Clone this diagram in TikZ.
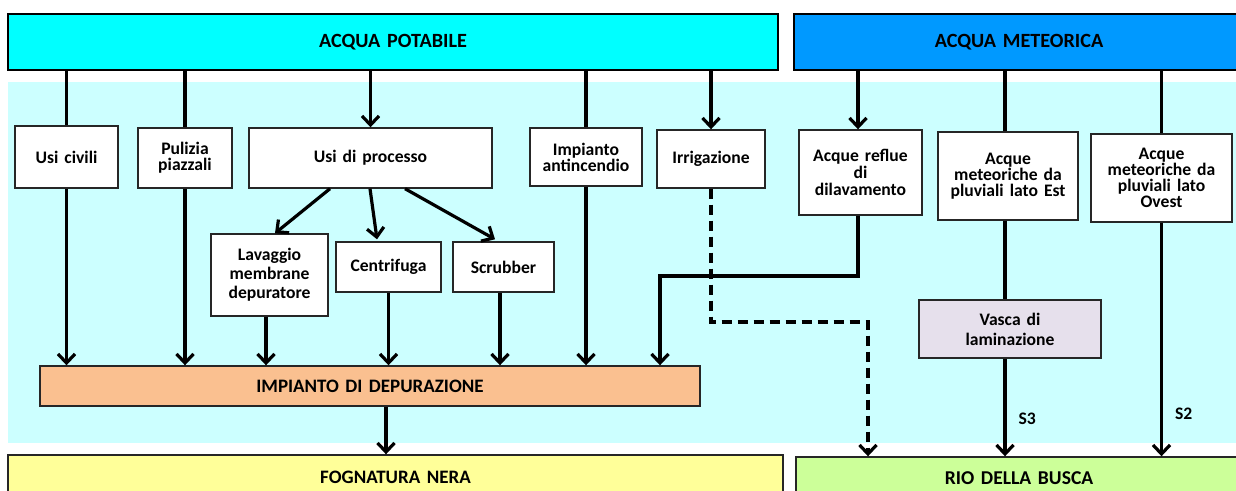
\documentclass[tikz,border=0pt]{standalone}
\usepackage{fontspec}
\setmainfont{Carlito}[WordSpace={1.5,1,1}]
\usetikzlibrary{arrows.meta}
\definecolor{potc}{HTML}{00FFFF}
\definecolor{metc}{HTML}{0099FF}
\definecolor{bgc}{HTML}{CCFFFF}
\definecolor{depc}{HTML}{FAC090}
\definecolor{vasc}{HTML}{E6E0EC}
\definecolor{fogc}{HTML}{FFFF99}
\definecolor{rioc}{HTML}{CCFF99}
\tikzset{
  box/.style={draw=black!85, line width=0.7pt, fill=white, inner sep=1pt, align=center,
    font=\fontsize{8.8}{8}\selectfont\bfseries},
  bigbox/.style={draw=black, line width=1.1pt, inner sep=0pt, align=center,
    font=\fontsize{10.1}{12}\selectfont\bfseries},
  flow/.style={line width=1.6pt},
  arr/.style={flow, -{Straight Barb[length=4.5pt,width=8.5pt,line width=1.6pt]}},
  darr/.style={arr, dash pattern=on 5pt off 3pt},
  lbl/.style={font=\fontsize{8.8}{10}\selectfont\bfseries, inner sep=0pt}
}
\begin{document}
\begin{tikzpicture}[x=0.5pt,y=-0.5pt]
\useasboundingbox (0,0) rectangle (1236,491);
\fill[bgc] (8,82) rectangle (1240,443);
% top boxes
\node[bigbox, fill=potc, minimum width=385pt, minimum height=28pt] (pot) at (393,42) {ACQUA POTABILE};
\node[bigbox, fill=metc, minimum width=225pt, minimum height=28pt] (met) at (1019,42) {ACQUA METEORICA};
% use boxes
\node[box, minimum width=51.5pt, minimum height=31pt] (civ) at (66.5,157) {Usi civili};
\node[box, minimum width=47pt, minimum height=30pt] (pul) at (185,158) {Pulizia\\piazzali};
\node[box, minimum width=121.5pt, minimum height=30pt] (proc) at (370.5,158) {Usi di processo};
\node[box, minimum width=56pt, minimum height=29pt] (anti) at (586,157) {Impianto\\antincendio};
\node[box, minimum width=54pt, minimum height=29pt] (irr) at (711,159) {Irrigazione};
\node[box, minimum width=61.5pt, minimum height=42.5pt, font=\fontsize{8.8}{8.3}\selectfont\bfseries] (refl) at (860.5,172.5) {Acque reflue\\di\\dilavamento};
\node[box, minimum width=70pt, minimum height=44pt, font=\fontsize{8.8}{8}\selectfont\bfseries] (est) at (1008,176) {Acque\\meteoriche da\\pluviali lato Est};
\node[box, minimum width=70.5pt, minimum height=44pt, font=\fontsize{8.8}{8}\selectfont\bfseries] (ove) at (1161.5,178) {Acque\\meteoriche da\\pluviali lato\\Ovest};
\node[box, minimum width=58.5pt, minimum height=41pt, font=\fontsize{8.8}{9.5}\selectfont\bfseries] (lav) at (269.5,275) {Lavaggio\\membrane\\depuratore};
\node[box, minimum width=52.5pt, minimum height=25pt] (cen) at (388.5,267) {Centrifuga};
\node[box, minimum width=50.5pt, minimum height=25pt] (scr) at (503.5,267) {Scrubber};
\node[box, fill=depc, minimum width=330pt, minimum height=20pt, font=\fontsize{9.5}{10}\selectfont\bfseries] (dep) at (370,386) {IMPIANTO DI DEPURAZIONE};
\node[box, fill=vasc, minimum width=91pt, minimum height=29pt, font=\fontsize{8.8}{10}\selectfont\bfseries] (vas) at (1010,329) {Vasca di\\laminazione};
\node[box, fill=fogc, minimum width=387.5pt, minimum height=22.5pt, font=\fontsize{9.5}{10}\selectfont\bfseries] (fog) at (395.5,477.5) {FOGNATURA NERA};
\node[box, fill=rioc, minimum width=223pt, minimum height=21.5pt, font=\fontsize{9.8}{10}\selectfont\bfseries] (rio) at (1019,478.5) {RIO DELLA BUSCA};
% joints
\coordinate (j1) at (660,276);
\coordinate (j2) at (868,322);
% potable connectors
\draw[flow] (civ.north |- pot.south) -- (civ.north);
\draw[arr] (civ.south) -- (civ.south |- dep.north);
\draw[flow] (pul.north |- pot.south) -- (pul.north);
\draw[arr] (pul.south) -- (pul.south |- dep.north);
\draw[arr] (proc.north |- pot.south) -- (proc.north);
\draw[arr] ([xshift=-20.25pt]proc.south) -- ([xshift=2.75pt]lav.north);
\draw[arr] ([xshift=-0.25pt]proc.south) -- ([xshift=-5.75pt,yshift=1pt]cen.north);
\draw[arr] ([xshift=17.25pt]proc.south) -- ([xshift=-4.25pt,yshift=1pt]scr.north);
\draw[arr] ([xshift=-1.75pt]lav.south) -- ([xshift=-1.75pt]lav.south |- dep.north);
\draw[arr] (cen.south) -- (cen.south |- dep.north);
\draw[arr] ([xshift=-1.75pt]scr.south) -- ([xshift=-1.75pt]scr.south |- dep.north);
\draw[flow] (anti.north |- pot.south) -- (anti.north);
\draw[arr] (anti.south) -- (anti.south |- dep.north);
\draw[arr] (irr.north |- pot.south) -- (irr.north);
\draw[darr] (irr.south) |- (j2) -- (j2 |- rio.north);
\draw[arr] ([xshift=8pt]dep.south) -- ([xshift=8pt]dep.south |- fog.north);
% meteoric connectors
\draw[arr] ([xshift=-1.25pt]refl.north |- met.south) -- ([xshift=-1.25pt]refl.north);
\draw[arr] ([xshift=-1.25pt]refl.south) |- (j1) -- (j1 |- dep.north);
\draw[flow] ([xshift=-1.5pt]est.north |- met.south) -- ([xshift=-1.5pt]est.north);
\draw[flow] ([xshift=-1.5pt]est.south) -- ([xshift=-1.5pt]est.south |- vas.north);
\draw[arr] ([xshift=-2.5pt]vas.south) -- ([xshift=-2.5pt]vas.south |- rio.north) node[lbl, pos=0.62, right=6pt] {S3};
\draw[flow] (ove.north |- met.south) -- (ove.north);
\draw[arr] (ove.south) -- (ove.south |- rio.north) node[lbl, pos=0.82, right=6pt] (s2) {S2};
\end{tikzpicture}
\end{document}
